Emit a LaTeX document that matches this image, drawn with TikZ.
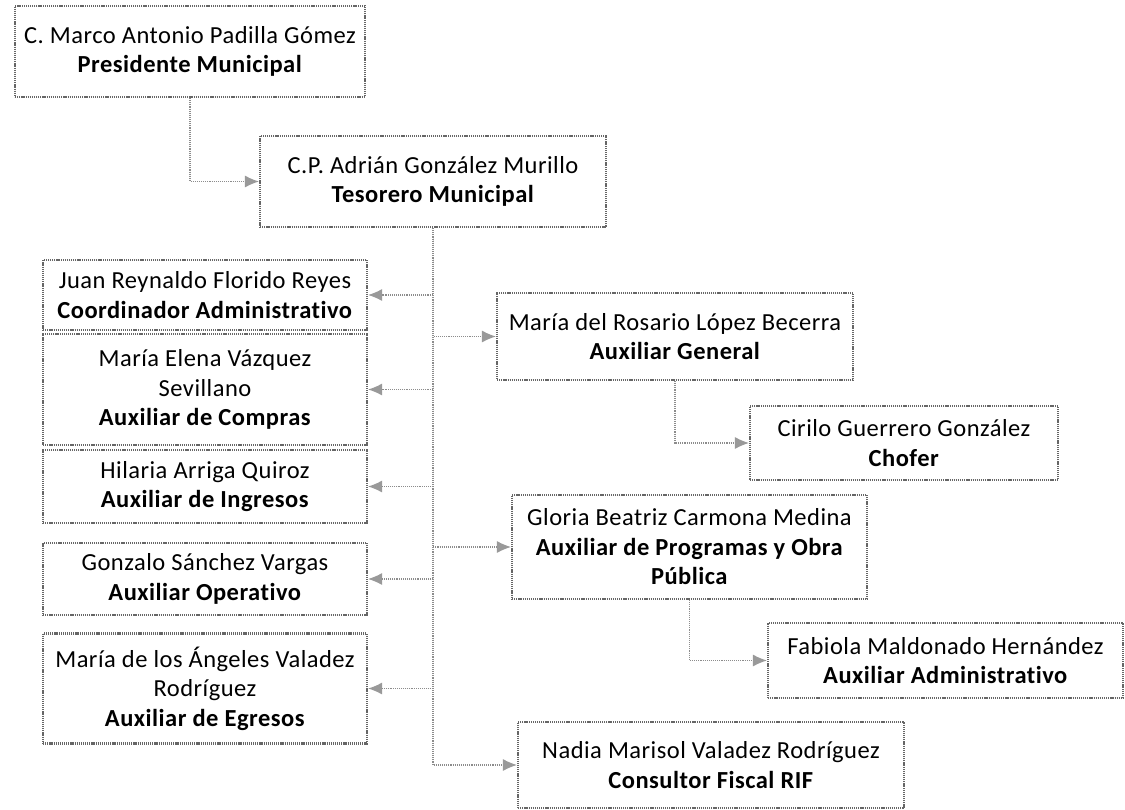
\documentclass[tikz,border=0pt]{standalone}
\usepackage{fontspec}
\setmainfont{Carlito}[Ligatures=NoCommon,LetterSpace=2]
\usetikzlibrary{arrows.meta,positioning}

\tikzset{
	puesto/.style={draw=black!60,line width=2.1pt,dash pattern=on 1.2pt off 0.9pt,fill=white,align=center,inner sep=2pt,font=\fontsize{24.5}{29.5}\selectfont},
	liga/.style={draw=black!45,line width=1.1pt,densely dotted,-{Latex[length=14pt,width=12pt,color=black!40]}}
}

\begin{document}
\begin{tikzpicture}[x=1pt,y=-1pt]
	\useasboundingbox (0,0) rectangle (1125,809);

	\node[puesto,minimum width=350pt,minimum height=91pt] (pres) at (190,51.5) {C. Marco Antonio Padilla Gómez\\\textbf{Presidente Municipal}};
	\node[puesto,minimum width=346pt,minimum height=91pt] (teso) at (433,181.5) {C.P. Adrián González Murillo\\\textbf{Tesorero Municipal}};

	% columna izquierda
	\foreach \y/\h/\name/\txt in
		{295/70/juan/{Juan Reynaldo Florido Reyes\\\textbf{Coordinador Administrativo}},
		 389.5/111/mael/{María Elena Vázquez\\Sevillano\\\textbf{Auxiliar de Compras}},
		 486.5/73/hila/{Hilaria Arriga Quiroz\\\textbf{Auxiliar de Ingresos}},
		 579/72/gonz/{Gonzalo Sánchez Vargas\\\textbf{Auxiliar Operativo}},
		 688.5/110/mang/{María de los Ángeles Valadez\\Rodríguez\\\textbf{Auxiliar de Egresos}}}
		\node[puesto,minimum width=324pt,minimum height=\h pt] (\name) at (205,\y) {\txt};

	% columna derecha
	\node[puesto,minimum width=356pt,minimum height=87pt] (maro) at (675,336.5) {María del Rosario López Becerra\\\textbf{Auxiliar General}};
	\node[puesto,minimum width=308pt,minimum height=74pt] (ciri) at (904,443) {Cirilo Guerrero González\\\textbf{Chofer}};
	\node[puesto,minimum width=355pt,minimum height=104pt] (glor) at (689.5,547) {Gloria Beatriz Carmona Medina\\\textbf{Auxiliar de Programas y Obra}\\\textbf{Pública}};
	\node[puesto,minimum width=355pt,minimum height=75pt] (fabi) at (945.5,660.5) {Fabiola Maldonado Hernández\\\textbf{Auxiliar Administrativo}};
	\node[puesto,minimum width=386pt,minimum height=86pt] (nadi) at (711,765) {Nadia Marisol Valadez Rodríguez\\\textbf{Consultor Fiscal RIF}};

	\draw[liga] (pres.south) |- (teso.west);
	\foreach \n in {juan,mael,hila,gonz,mang}
		\draw[liga] (teso.south) |- (\n.east);
	\foreach \n in {maro,glor,nadi}
		\draw[liga] (teso.south) |- (\n.west);
	\draw[liga] (maro.south) |- (ciri.west);
	\draw[liga] (glor.south) |- (fabi.west);
\end{tikzpicture}
\end{document}
